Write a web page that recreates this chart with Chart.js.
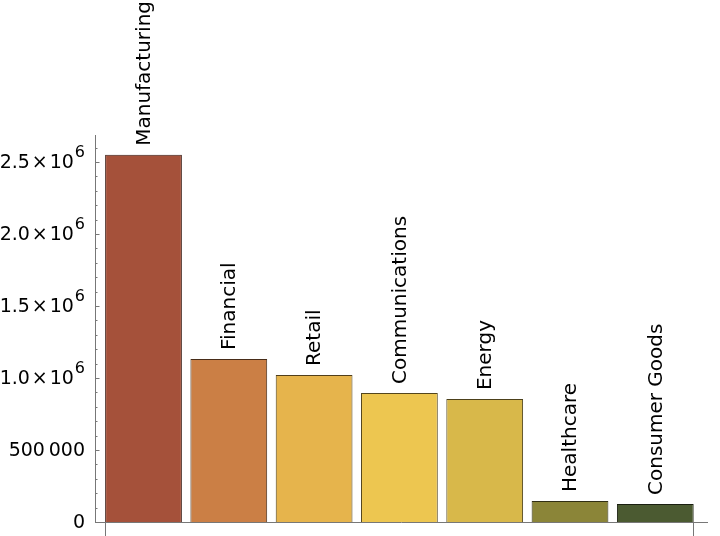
<!DOCTYPE html>
<html><head><meta charset="utf-8">
<script src="https://cdn.jsdelivr.net/npm/chart.js@4/dist/chart.umd.min.js"></script>
<style>html,body{margin:0;padding:0;background:#fff}#wrap{width:720px;height:536px}</style>
</head><body><div id="wrap"><canvas id="c" width="720" height="536"></canvas></div>
<script>
const categories = ['Manufacturing','Financial','Retail','Communications','Energy','Healthcare','Consumer Goods'];
const values = [2550000, 1132000, 1021000, 896000, 854000, 146000, 125000];
const yTickValues = [0, 500000, 1000000, 1500000, 2000000, 2500000];
const yTickLabels = ['0', '500\u2009000', '1.0\u200A×\u200A10^6', '1.5\u200A×\u200A10^6', '2.0\u200A×\u200A10^6', '2.5\u200A×\u200A10^6'];
const barColors = ['#A5513A','#CB7F45','#E6B44C','#EDC650','#D8B84A','#8B8538','#4B5A31'];

function darken(hex, f){
  const n = parseInt(hex.slice(1),16);
  const r=(n>>16)&255,g=(n>>8)&255,b=n&255;
  return 'rgb('+Math.round(r*f)+','+Math.round(g*f)+','+Math.round(b*f)+')';
}
const FONT = '"DejaVu Sans", sans-serif';
const AXIS = '#777';

const overlay = {
  id:'overlay',
  afterDraw(chart){
    const ctx = chart.ctx;
    const ys = chart.scales.y;
    const left = chart.chartArea.left;
    ctx.save();
    ctx.strokeStyle = AXIS; ctx.lineWidth = 1;
    for (let v = 0; v <= ys.max; v += 100000){
      const y = Math.round(ys.getPixelForValue(v)) + 0.5;
      const major = (v % 500000) === 0;
      ctx.beginPath();
      ctx.moveTo(left, y);
      ctx.lineTo(left + (major ? 4.5 : 2.5), y);
      ctx.stroke();
    }
    ctx.fillStyle = '#000';
    ctx.textBaseline = 'middle';
    yTickValues.forEach((v,i)=>{
      const y = ys.getPixelForValue(v);
      const parts = yTickLabels[i].split('^');
      const xr = left - 10;
      ctx.textAlign = 'right';
      if (parts.length === 2){
        ctx.font = '16px ' + FONT;
        const we = ctx.measureText(parts[1]).width;
        ctx.fillText(parts[1], xr, y - 9);
        ctx.font = '19px ' + FONT;
        ctx.fillText(parts[0], xr - we - 1, y + 1);
      } else {
        ctx.font = '19px ' + FONT;
        ctx.fillText(parts[0], xr, y + 1);
      }
    });
    const meta = chart.getDatasetMeta(0);
    ctx.font = '20px ' + FONT;
    ctx.textAlign = 'left';
    ctx.textBaseline = 'middle';
    meta.data.forEach((bar,i)=>{
      ctx.save();
      ctx.translate(bar.x + 1, bar.y - 9);
      ctx.rotate(-Math.PI/2);
      ctx.fillText(categories[i], 0, 0);
      ctx.restore();
    });
    ctx.restore();
  }
};

new Chart(document.getElementById('c'), {
  type: 'bar',
  data: {
    datasets: [{
      data: values.map((v,i)=>({x:i, y:v})),
      backgroundColor: barColors,
      borderColor: barColors.map(c=>darken(c,0.35)),
      borderWidth: 1,
      categoryPercentage: 1,
      barPercentage: 0.9
    }]
  },
  options: {
    responsive: false,
    animation: false,
    devicePixelRatio: 1,
    layout: {padding: {left: 87, right: 13, top: 135, bottom: 0}},
    plugins: {legend: {display: false}, tooltip: {enabled: false}},
    scales: {
      x: {
        type: 'linear', min: -0.5686, max: 6.606, offset: false,
        afterBuildTicks: s => { s.ticks = [{value: -0.45}, {value: 6.45}]; },
        ticks: {display: false},
        grid: {offset: false, drawOnChartArea: false, drawTicks: true, tickLength: 14, color: AXIS},
        border: {display: true, color: AXIS}
      },
      y: {
        min: 0, max: 2687500,
        ticks: {display: false},
        grid: {display: false},
        border: {display: true, color: AXIS}
      }
    }
  },
  plugins: [overlay]
});
</script>
</body></html>
